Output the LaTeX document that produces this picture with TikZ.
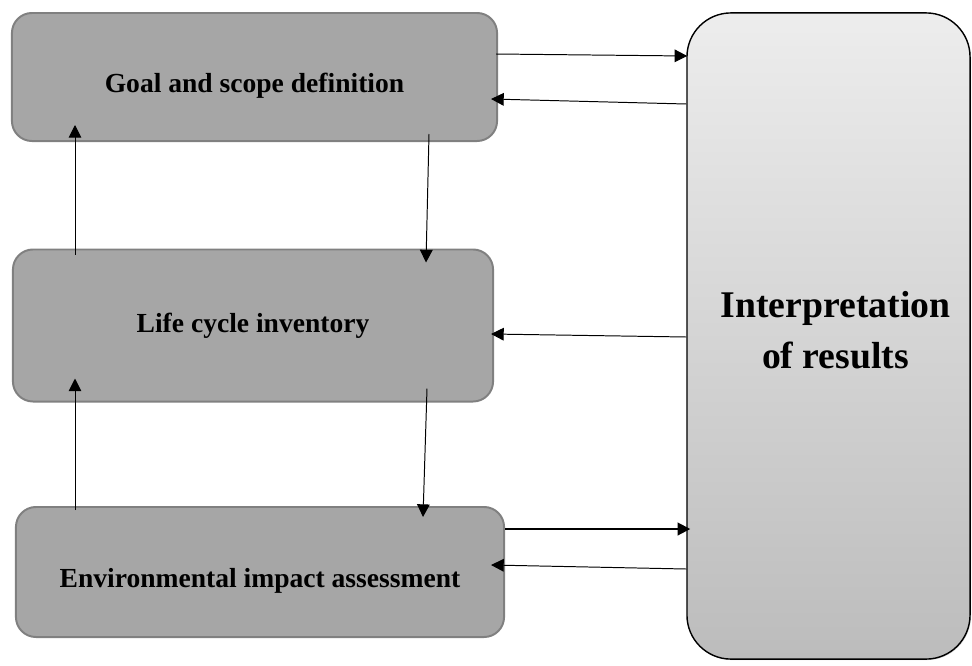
\documentclass[tikz,border=0pt]{standalone}
\usepackage{fontspec}
\setmainfont{Liberation Serif}
\usetikzlibrary{arrows.meta,calc,shadows}
\definecolor{stagefill}{RGB}{166,166,166}
\definecolor{stageline}{RGB}{128,128,128}
\definecolor{resulttop}{RGB}{237,237,237}
\definecolor{resultbottom}{RGB}{188,188,188}

\begin{document}
\begin{tikzpicture}[x=0.025cm,y=-0.025cm,
    stage/.style={draw=stageline,fill=stagefill,line width=1.4pt,rounded corners=0.5cm,inner sep=0pt,
                  font=\fontsize{19.6}{24}\selectfont\bfseries},
    lowtext/.style={text height=26pt,text depth=4.3pt},
    result/.style={draw=black,line width=1pt,rounded corners=1.1cm,top color=resulttop,bottom color=resultbottom,
                   drop shadow={shadow xshift=0.7pt,shadow yshift=-0.7pt,opacity=0.35},
                   align=center,text depth=8.5pt,font=\fontsize{26.8}{36.5}\selectfont\bfseries},
    flow/.style={-{Triangle[length=9pt,width=9pt]},line width=0.7pt},
    flowthick/.style={flow,line width=1.4pt}]
                    \useasboundingbox (0,0) rectangle (972,665);

                    % stages on the left
                    \node[stage,lowtext,minimum width=12.125cm,minimum height=3.2cm] (goal) at (254.5,77) {Goal and scope definition};
                    \node[stage,minimum width=12cm,minimum height=3.8cm] (inventory) at (253,325.5) {Life cycle inventory};
                    \node[stage,lowtext,minimum width=12.2cm,minimum height=3.25cm] (impact) at (260,572) {Environmental impact assessment};

                    % interpretation box on the right
                    \node[result,minimum width=7.075cm,minimum height=16.15cm] (interp) at (828.5,336)
                        {\hspace*{0.35cm}Interpretation\\\hspace*{0.35cm}of results};

                    % downward flow
                    \draw[flow] ($(goal.south)+(174.5,-8)$) -- ($(inventory.north)+(173,14)$);
                    \draw[flow] ($(inventory.south)+(174,-14)$) -- ($(impact.north)+(163,11)$);

                    % upward flow
                    \draw[flow] ($(inventory.north)+(-178,6)$) -- ($(goal.south)+(-179.5,-17)$);
                    \draw[flow] ($(impact.north)+(-185,4)$) -- ($(inventory.south)+(-178,-24)$);

                    % links with the interpretation box
                    \draw[flow] ($(goal.east)+(-2,-23)$) -- ($(interp.west)+(1,-280)$);
                    \draw[flow] ($(interp.west)+(0,-232)$) -- ($(goal.east)+(-7,22)$);
                    \draw[flow] ($(interp.west)+(0,1)$) -- ($(inventory.east)+(-3,8.5)$);
                    \draw[flowthick] ($(impact.east)+(0,-43)$) -- ($(interp.west)+(4,193)$);
                    \draw[flow] ($(interp.west)+(0,233)$) -- ($(impact.east)+(-14,-7)$);
\end{tikzpicture}
\end{document}
